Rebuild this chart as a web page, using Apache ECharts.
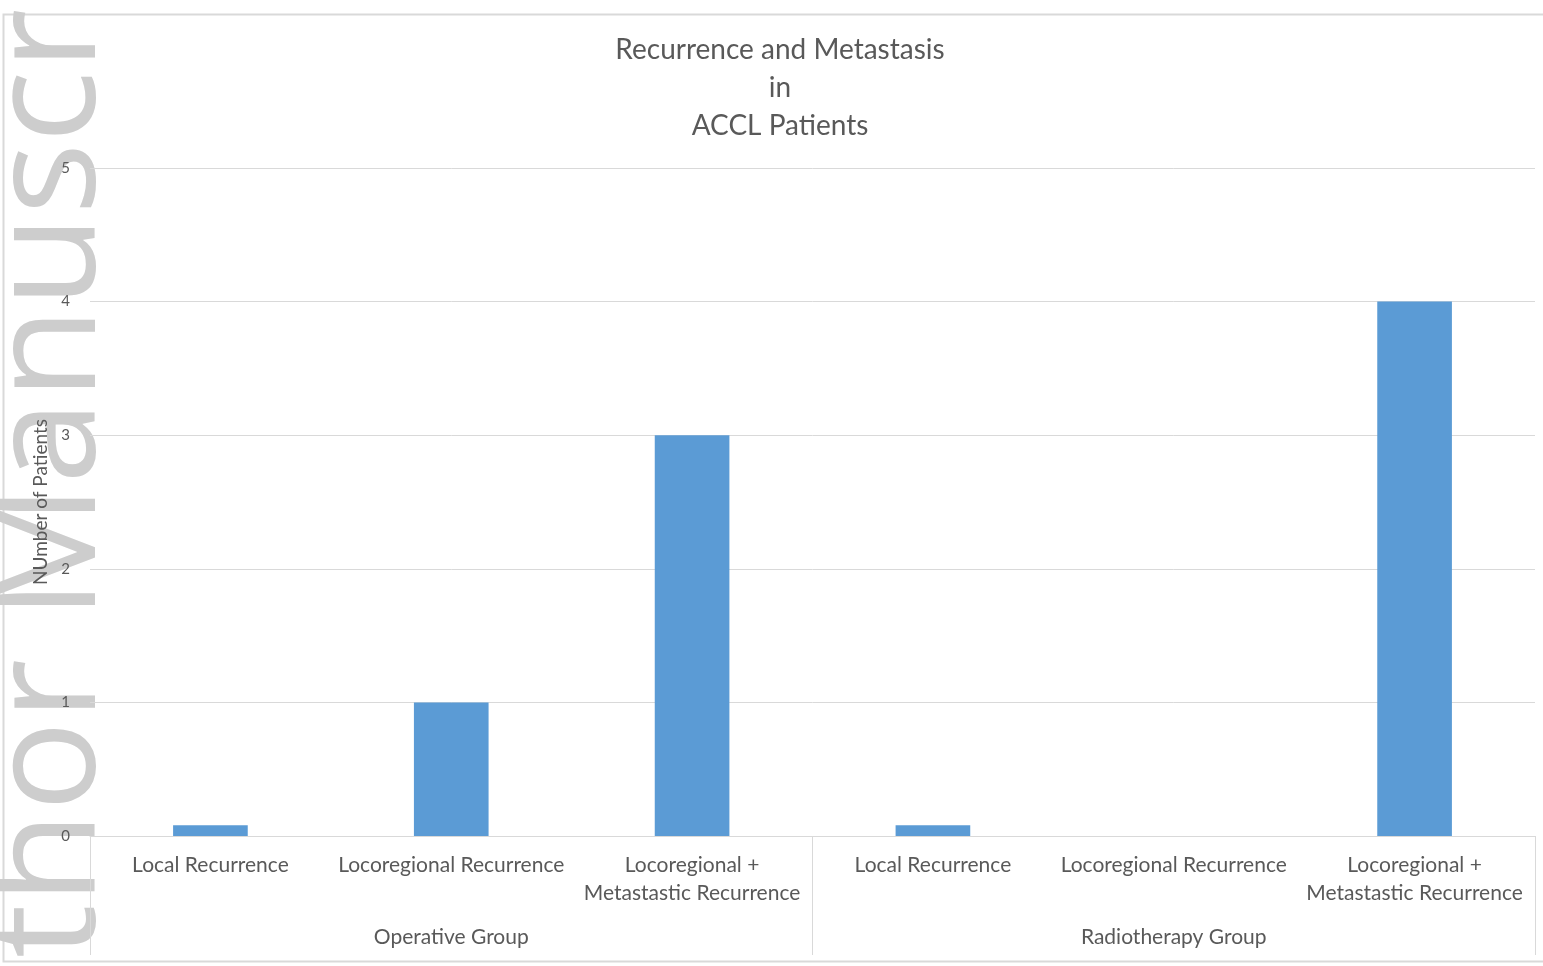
<!DOCTYPE html>
<html>
<head>
<meta charset="utf-8">
<script src="https://cdn.jsdelivr.net/npm/echarts@6/dist/echarts.min.js"></script>
<style>html,body{margin:0;padding:0;background:#fff;}#c{width:1543px;height:966px;}</style>
</head>
<body>
<div id="c"></div>
<script>
const categories = ['Local Recurrence', 'Locoregional Recurrence', 'Locoregional +\nMetastastic Recurrence',
                    'Local Recurrence', 'Locoregional Recurrence', 'Locoregional +\nMetastastic Recurrence'];
const groups = ['Operative Group', 'Radiotherapy Group'];
const patients = [0.08, 1, 3, 0.08, 0, 4];
const yTicks = { min: 0, max: 5, interval: 1 };
const titleText = 'Recurrence and Metastasis\nin\nACCL Patients';
const yName = 'NUmber of Patients';
const watermark = 'thor Manuscr';

const textColor = '#595959';
const lineColor = '#d9d9d9';
const font = 'Lato, "Open Sans", sans-serif';

const chart = echarts.init(document.getElementById('c'));
chart.setOption({
  animation: false,
  backgroundColor: '#fff',
  title: {
    text: titleText,
    left: 775,
    top: 26,
    textAlign: 'center',
    textStyle: { fontFamily: font, fontSize: 28, fontWeight: 'normal', color: textColor, lineHeight: 38 }
  },
  graphic: [
    {
      type: 'rect', z: -2, silent: true,
      shape: { x: 3.5, y: 14.5, width: 1600, height: 947 },
      style: { fill: 'none', stroke: lineColor, lineWidth: 2 }
    },
    {
      type: 'text', z: -1, silent: true,
      x: 52, y: 958, rotation: Math.PI / 2,
      style: { text: watermark, fontFamily: '"Open Sans", sans-serif', fontSize: 151,
               fill: '#cdcdcd', textAlign: 'left', textVerticalAlign: 'middle' }
    }
  ],
  grid: { left: 90, right: 8, top: 168, bottom: 130, containLabel: false },
  xAxis: [
    {
      type: 'category', data: categories, position: 'bottom', offset: 0,
      axisLine: { show: true, lineStyle: { color: lineColor, width: 1 } },
      axisTick: { show: false },
      axisLabel: { interval: 0, margin: 15, fontFamily: font, fontSize: 21, color: textColor, lineHeight: 28 }
    },
    {
      type: 'category', data: groups, position: 'bottom', offset: 0,
      axisLine: { show: false },
      axisTick: { show: true, length: 119, interval: 0, lineStyle: { color: lineColor, width: 1 } },
      axisLabel: { interval: 0, margin: 91, fontFamily: font, fontSize: 21, color: textColor }
    }
  ],
  yAxis: {
    type: 'value', min: yTicks.min, max: yTicks.max, interval: yTicks.interval,
    name: yName, nameLocation: 'middle', nameGap: 38, nameRotate: 90,
    nameTextStyle: { fontFamily: font, fontSize: 19, color: textColor },
    axisLine: { show: false }, axisTick: { show: false },
    axisLabel: { margin: 20, fontFamily: font, fontSize: 15, color: textColor },
    splitLine: { lineStyle: { color: lineColor, width: 1 } }
  },
  series: [{
    type: 'bar', data: patients, xAxisIndex: 0, barWidth: '31%',
    itemStyle: { color: '#5b9bd5' }
  }]
});
</script>
</body>
</html>
